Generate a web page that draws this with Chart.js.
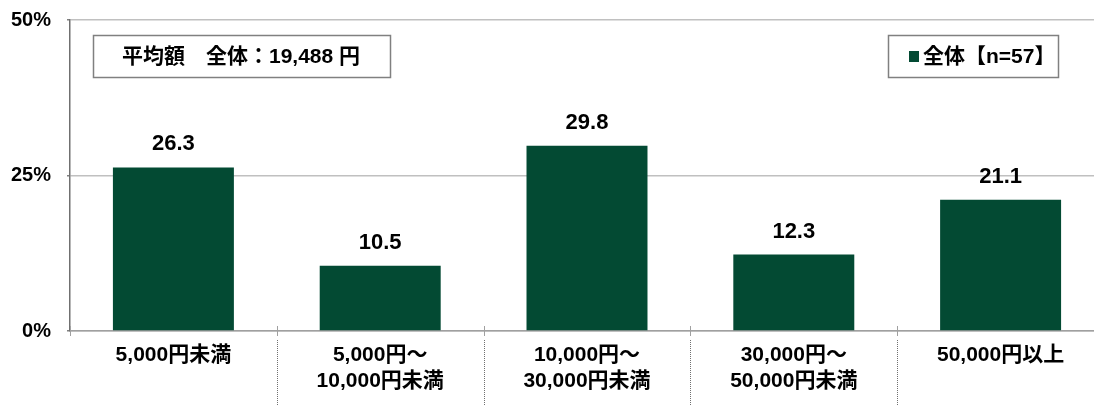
<!DOCTYPE html>
<html>
<head>
<meta charset="utf-8">
<script src="https://cdn.jsdelivr.net/npm/chart.js@4.4.1/dist/chart.umd.min.js"></script>
<style>
  html, body { margin: 0; padding: 0; background: #fff; overflow: hidden; }
  #wrap { position: relative; width: 1106px; height: 406px; }
</style>
</head>
<body>
<div id="wrap"><canvas id="chart"></canvas></div>
<script>
  const categories = [
    ['5,000円未満'],
    ['5,000円～', '10,000円未満'],
    ['10,000円～', '30,000円未満'],
    ['30,000円～', '50,000円未満'],
    ['50,000円以上']
  ];
  const seriesName = '全体【n=57】';
  const values = [26.3, 10.5, 29.8, 12.3, 21.1];
  const yTicks = [0, 25, 50];
  const noteText = '平均額　全体：19,488 円';

  const barColor = '#034a33';
  const fontFamily = "'Liberation Sans', 'Noto Sans CJK JP', sans-serif";

  const extras = {
    id: 'extras',
    afterDraw(chart) {
      const c = chart.ctx;
      const area = chart.chartArea;

      // value labels above bars
      c.save();
      c.fillStyle = '#000';
      c.font = 'bold 22px ' + fontFamily;
      c.textAlign = 'center';
      c.textBaseline = 'middle';
      chart.getDatasetMeta(0).data.forEach((bar, i) => {
        c.fillText(values[i].toFixed(1), bar.x, bar.y - 23);
      });

      // tick marks and dotted separators between categories
      const step = (area.right - area.left) / categories.length;
      c.strokeStyle = '#a0a0a0';
      c.lineWidth = 1;
      for (let i = 0; i <= categories.length; i++) {
        const px = Math.round(area.left + step * i) + 0.5;
        c.beginPath();
        c.moveTo(px, area.bottom - 5);
        c.lineTo(px, area.bottom + 5);
        c.stroke();
        if (i > 0 && i < categories.length) {
          c.save();
          c.strokeStyle = '#707070';
          c.setLineDash([1, 1]);
          c.beginPath();
          c.moveTo(px, area.bottom + 9);
          c.lineTo(px, chart.height);
          c.stroke();
          c.restore();
        }
      }

      // average note box
      c.strokeStyle = '#808080';
      c.lineWidth = 1.5;
      c.strokeRect(93.5, 35.5, 297, 42);
      c.fillStyle = '#000';
      c.font = 'bold 21px ' + fontFamily;
      c.textAlign = 'center';
      c.fillText(noteText, 241, 57);

      // legend box
      c.strokeRect(888.5, 35.5, 170, 42);
      c.fillStyle = barColor;
      c.fillRect(909, 51, 10, 11);
      c.fillStyle = '#000';
      c.textAlign = 'left';
      c.fillText(seriesName, 923, 57);
      c.restore();
    }
  };

  new Chart(document.getElementById('chart'), {
    type: 'bar',
    data: {
      labels: categories,
      datasets: [{
        label: seriesName,
        data: values,
        backgroundColor: barColor,
        borderWidth: 0,
        barPercentage: 0.585,
        categoryPercentage: 1
      }]
    },
    options: {
      responsive: true,
      maintainAspectRatio: false,
      animation: false,
      layout: { padding: { left: 0, right: 2, top: 20, bottom: 0 } },
      plugins: {
        legend: { display: false },
        tooltip: { enabled: false }
      },
      scales: {
        x: {
          grid: { display: false, drawTicks: false },
          border: { display: true, color: '#a0a0a0', width: 1.5 },
          ticks: {
            color: '#000',
            padding: 12,
            maxRotation: 0,
            autoSkip: false,
            font: { family: fontFamily, size: 21, weight: 'bold', lineHeight: 1.2 }
          },
          afterFit(scale) {
            scale.height = 75;
            scale.paddingLeft = 0;
            scale.paddingRight = 0;
          }
        },
        y: {
          min: 0,
          max: 50,
          afterBuildTicks(scale) { scale.ticks = yTicks.map(v => ({ value: v })); },
          grid: { color: '#c0c0c0', lineWidth: 1.5, drawTicks: true, tickLength: 3, tickColor: '#808080' },
          border: { display: true, color: '#707070', width: 1.5 },
          ticks: {
            color: '#000',
            padding: 16,
            callback: v => v + '%',
            font: { family: fontFamily, size: 20, weight: 'bold' }
          },
          afterFit(scale) {
            scale.width = 70;
            scale.paddingTop = 0;
            scale.paddingBottom = 0;
          }
        }
      }
    },
    plugins: [extras]
  });
</script>
</body>
</html>
